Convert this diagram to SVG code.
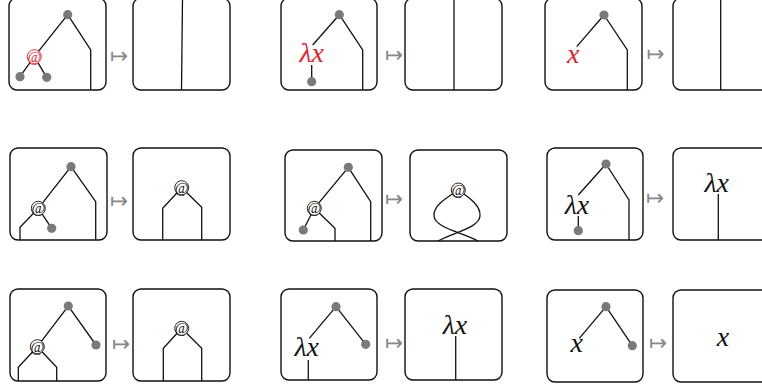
<svg xmlns="http://www.w3.org/2000/svg" width="762" height="392" viewBox="0 0 762 392">
<style>
.box{fill:#fff;stroke:#111;stroke-width:1.4}
.w{fill:none;stroke:#111;stroke-width:1.3}
.dot{fill:#7a7a7a}
.lbl{font-family:"Liberation Serif",serif;font-style:italic;font-size:28px;text-anchor:middle;fill:#111}
.red{fill:#e8202a}
.atc{fill:#fff;stroke:#111;stroke-width:0.9}
.atc.r{stroke:#e8202a}
.at{font-family:"Liberation Serif",serif;font-size:15px;text-anchor:middle;fill:#111}
.at.r{fill:#e8202a}
.map{font-family:"DejaVu Sans",sans-serif;font-size:22px;text-anchor:middle;fill:#888}
</style>
<rect width="762" height="392" fill="#fff"/>

<g id="r1b1">
<rect class="box" x="9" y="-2" width="97" height="92" rx="8"/>
<polyline class="w" points="34.3,56.7 67.7,14.7 90.7,50 90.7,90"/>
<line class="w" x1="34.3" y1="56.7" x2="20" y2="76.7"/>
<line class="w" x1="34.3" y1="56.7" x2="46.7" y2="77.3"/>
<circle class="dot" cx="67.7" cy="14.7" r="4.6"/>
<circle class="dot" cx="20" cy="76.7" r="4.6"/>
<circle class="dot" cx="46.7" cy="77.3" r="4.6"/>
<circle class="atc r" cx="34.3" cy="56.7" r="7"/>
<text class="at r" x="34.3" y="61.5">@</text>
</g>
<g id="r1b2">
<rect class="box" x="133" y="-2" width="97" height="92" rx="8"/>
<line class="w" x1="182.5" y1="-2" x2="181.5" y2="90"/>
</g>
<g id="r1b3">
<rect class="box" x="281" y="-2" width="96" height="92" rx="8"/>
<line class="w" x1="339.3" y1="14.7" x2="312.7" y2="45"/>
<polyline class="w" points="339.3,14.7 362.7,50 362.7,90"/>
<line class="w" x1="311.7" y1="65" x2="311.7" y2="81.7"/>
<circle class="dot" cx="339.3" cy="14.7" r="4.6"/>
<circle class="dot" cx="311.7" cy="81.7" r="4.6"/>
<text class="lbl red" x="311.7" y="62">λx</text>
</g>
<g id="r1b4">
<rect class="box" x="405" y="-2" width="97" height="92" rx="8"/>
<line class="w" x1="454" y1="-2" x2="454" y2="90"/>
</g>
<g id="r1b5">
<rect class="box" x="545" y="-2" width="97" height="92" rx="8"/>
<line class="w" x1="604" y1="15" x2="576.7" y2="46.7"/>
<polyline class="w" points="604,15 627.3,50 627.3,90"/>
<circle class="dot" cx="604" cy="15" r="4.6"/>
<text class="lbl red" x="573.3" y="62.5">x</text>
</g>
<g id="r1b6">
<rect class="box" x="673" y="-2" width="100" height="92" rx="8"/>
<line class="w" x1="720.7" y1="-2" x2="720.7" y2="90"/>
</g>

<g id="r2b1">
<rect class="box" x="10" y="148" width="97" height="92" rx="8"/>
<polyline class="w" points="38.3,208.3 71,166.7 95.7,201.7 95.7,240"/>
<polyline class="w" points="38.3,208.3 20,227.3 20,240"/>
<line class="w" x1="38.3" y1="208.3" x2="51.7" y2="228.3"/>
<circle class="dot" cx="71" cy="166.7" r="4.6"/>
<circle class="dot" cx="51.7" cy="228.3" r="4.6"/>
<circle class="atc" cx="38.3" cy="208.3" r="7"/>
<text class="at" x="38.3" y="213.1">@</text>
</g>
<g id="r2b2">
<rect class="box" x="133" y="148" width="97" height="92" rx="8"/>
<polyline class="w" points="162.7,240 162.7,208.3 181.7,187.7 201.7,207.3 201.7,240"/>
<circle class="atc" cx="181.7" cy="187.7" r="7"/>
<text class="at" x="181.7" y="192.5">@</text>
</g>
<g id="r2b3">
<rect class="box" x="285" y="150" width="97" height="91" rx="8"/>
<polyline class="w" points="314.3,208.3 348.3,167.3 370.7,201.7 370.7,241"/>
<line class="w" x1="314.3" y1="208.3" x2="303.3" y2="230"/>
<polyline class="w" points="314.3,208.3 335,228.3 335,241"/>
<circle class="dot" cx="348.3" cy="167.3" r="4.6"/>
<circle class="dot" cx="303.3" cy="230" r="4.6"/>
<circle class="atc" cx="314.3" cy="208.3" r="7"/>
<text class="at" x="314.3" y="213.1">@</text>
</g>
<g id="r2b4">
<rect class="box" x="410" y="150" width="97" height="91" rx="8"/>
<path class="w" d="M458.3,190 C446,198 433,206 434,216 C435,228 462,232 478,241"/>
<path class="w" d="M458.3,190 C470,198 481,206 480,216 C479,228 454,232 438,241"/>
<circle class="atc" cx="458.3" cy="190" r="7"/>
<text class="at" x="458.3" y="194.8">@</text>
</g>
<g id="r2b5">
<rect class="box" x="547" y="148" width="96" height="92" rx="8"/>
<line class="w" x1="606" y1="164" x2="578.3" y2="195"/>
<polyline class="w" points="606,164 629,200 629,240"/>
<line class="w" x1="578.3" y1="216" x2="578.3" y2="230.7"/>
<circle class="dot" cx="606" cy="164" r="4.6"/>
<circle class="dot" cx="578.3" cy="230.7" r="4.6"/>
<text class="lbl" x="577" y="214">λx</text>
</g>
<g id="r2b6">
<rect class="box" x="673" y="148" width="100" height="92" rx="8"/>
<line class="w" x1="718.3" y1="194" x2="718.3" y2="240"/>
<text class="lbl" x="716.7" y="192">λx</text>
</g>

<g id="r3b1">
<rect class="box" x="10" y="289" width="96" height="92" rx="8"/>
<polyline class="w" points="37.3,346.7 68.3,306 96,345"/>
<polyline class="w" points="37.3,346.7 18.3,367.3 18.3,381"/>
<polyline class="w" points="37.3,346.7 56.7,367.3 56.7,381"/>
<circle class="dot" cx="68.3" cy="306" r="4.6"/>
<circle class="dot" cx="96" cy="345" r="4.6"/>
<circle class="atc" cx="37.3" cy="346.7" r="7"/>
<text class="at" x="37.3" y="351.5">@</text>
</g>
<g id="r3b2">
<rect class="box" x="133" y="289" width="97" height="92" rx="8"/>
<polyline class="w" points="163.3,381 163.3,348.3 181.7,328.3 201.7,348.3 201.7,381"/>
<circle class="atc" cx="181.7" cy="328.3" r="7"/>
<text class="at" x="181.7" y="333.1">@</text>
</g>
<g id="r3b3">
<rect class="box" x="281" y="289" width="96" height="91" rx="8"/>
<line class="w" x1="336" y1="306.7" x2="309.3" y2="338.3"/>
<line class="w" x1="336" y1="306.7" x2="365.7" y2="344.3"/>
<line class="w" x1="308.3" y1="360" x2="308.3" y2="380"/>
<circle class="dot" cx="336" cy="306.7" r="4.6"/>
<circle class="dot" cx="365.7" cy="344.3" r="4.6"/>
<text class="lbl" x="306.7" y="356">λx</text>
</g>
<g id="r3b4">
<rect class="box" x="405" y="289" width="97" height="91" rx="8"/>
<line class="w" x1="455.7" y1="336" x2="455.7" y2="380"/>
<text class="lbl" x="455" y="334">λx</text>
</g>
<g id="r3b5">
<rect class="box" x="547" y="290" width="96" height="92" rx="8"/>
<line class="w" x1="606" y1="306.7" x2="579.3" y2="338.3"/>
<line class="w" x1="606" y1="306.7" x2="632.3" y2="345.7"/>
<circle class="dot" cx="606" cy="306.7" r="4.6"/>
<circle class="dot" cx="632.3" cy="345.7" r="4.6"/>
<text class="lbl" x="576.7" y="352">x</text>
</g>
<g id="r3b6">
<rect class="box" x="673" y="290" width="100" height="92" rx="8"/>
<text class="lbl" x="723" y="346">x</text>
</g>

<g id="connectors">
<text class="map" x="119" y="63.1" textLength="18" lengthAdjust="spacingAndGlyphs">↦</text>
<text class="map" x="394" y="62.4" textLength="18" lengthAdjust="spacingAndGlyphs">↦</text>
<text class="map" x="655.5" y="61.4" textLength="18" lengthAdjust="spacingAndGlyphs">↦</text>
<text class="map" x="119" y="208.1" textLength="18" lengthAdjust="spacingAndGlyphs">↦</text>
<text class="map" x="394" y="206.4" textLength="18" lengthAdjust="spacingAndGlyphs">↦</text>
<text class="map" x="655" y="204.8" textLength="18" lengthAdjust="spacingAndGlyphs">↦</text>
<text class="map" x="121" y="351.4" textLength="18" lengthAdjust="spacingAndGlyphs">↦</text>
<text class="map" x="394" y="349.8" textLength="18" lengthAdjust="spacingAndGlyphs">↦</text>
<text class="map" x="658" y="349.8" textLength="18" lengthAdjust="spacingAndGlyphs">↦</text>
</g>
</svg>
